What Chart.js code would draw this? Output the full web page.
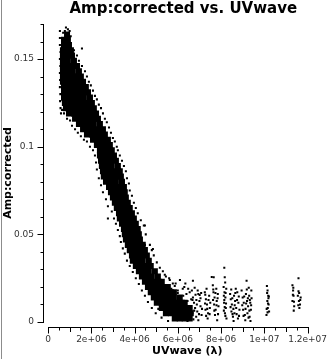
<!DOCTYPE html>
<html><head><meta charset="utf-8">
<script src="https://cdn.jsdelivr.net/npm/chart.js@4.4.1/dist/chart.umd.min.js"></script>
<style>html,body{margin:0;padding:0;background:#fff;overflow:hidden}#wrap{width:327px;height:359px;position:relative}</style>
</head><body><div id="wrap"><canvas id="c" width="327" height="359"></canvas></div>
<script>
const TITLE = 'Amp:corrected vs. UVwave';
const X_TITLE = 'UVwave (\u03bb)';
const Y_TITLE = 'Amp:corrected';
const UV_UNIT = 1e6; // uv values below are in units of 1e6 wavelengths

const xTickValues = [0, 2e6, 4e6, 6e6, 8e6, 1e7, 1.2e7];
const xTickLabels = ['0', '2e+06', '4e+06', '6e+06', '8e+06', '1e+07', '1.2e+07'];
const yTickValues = [0, 0.05, 0.1, 0.15];
const yTickLabels = ['0', '0.05', '0.1', '0.15'];

// dense body of the visibility cloud: amplitude rows and the uv positions filled in each row
const coreAmpLevels = [0.164,0.161,0.158,0.155,0.152,0.149,0.146,0.143,0.140,0.137,0.134,0.131,0.128,0.125,0.122,0.119,0.116,0.113,0.110,0.107,0.104,0.101,0.098,0.095,0.092,0.089,0.086,0.083,0.080,0.077,0.074,0.071,0.068,0.065,0.062,0.059,0.056,0.053,0.050,0.047,0.044,0.041,0.038,0.035,0.032,0.029,0.026,0.023,0.020,0.017,0.014,0.011,0.008,0.005,0.002];
const coreUVByLevel = [
[0.88],
[0.74,0.92],
[0.74,0.97],
[0.69,0.92,1.06],
[0.69,0.92,1.11],
[0.69,0.92,1.20],
[0.69,0.92,1.15,1.34],
[0.69,0.92,1.15,1.43],
[0.69,0.92,1.15,1.38,1.52],
[0.69,0.92,1.15,1.38,1.62],
[0.74,0.97,1.20,1.43,1.66,1.75],
[0.74,0.97,1.20,1.43,1.66,1.85],
[0.74,0.97,1.20,1.43,1.66,1.94],
[0.78,1.02,1.25,1.48,1.71,1.94,2.03],
[0.83,1.06,1.29,1.52,1.75,1.98,2.12],
[0.97,1.20,1.43,1.66,1.89,2.12,2.22],
[1.25,1.48,1.71,1.94,2.17,2.31],
[1.43,1.66,1.89,2.12,2.40],
[1.62,1.85,2.08,2.31,2.54],
[1.80,2.03,2.26,2.49,2.63],
[2.08,2.31,2.54,2.77],
[2.26,2.49,2.72,2.86],
[2.40,2.63,2.86,2.95],
[2.40,2.63,2.86,3.05],
[2.45,2.68,2.91,3.14],
[2.49,2.72,2.95,3.23],
[2.54,2.77,3.00,3.23,3.32],
[2.58,2.82,3.05,3.28,3.37],
[2.68,2.91,3.14,3.42],
[2.82,3.05,3.28,3.51],
[2.91,3.14,3.37,3.55],
[3.00,3.23,3.46,3.60],
[3.09,3.32,3.55,3.69],
[3.18,3.42,3.65,3.78],
[3.28,3.51,3.74,3.88],
[3.32,3.55,3.78,3.97],
[3.42,3.65,3.88,4.06],
[3.51,3.74,3.97,4.15],
[3.55,3.78,4.02,4.20],
[3.60,3.83,4.06,4.25],
[3.69,3.92,4.15,4.38],
[3.78,4.02,4.25,4.48],
[3.88,4.11,4.34,4.57],
[3.92,4.15,4.38,4.66],
[4.06,4.29,4.52,4.75],
[4.20,4.43,4.66,4.94],
[4.34,4.57,4.80,5.08],
[4.48,4.71,4.94,5.12,5.26],
[4.62,4.85,5.08,5.31,5.54],
[4.75,4.98,5.21,5.45,5.68,5.82],
[4.89,5.12,5.35,5.58,5.82,6.09],
[5.03,5.26,5.49,5.72,5.95,6.18,6.32],
[5.26,5.49,5.72,5.95,6.18,6.41,6.55],
[5.45,5.68,5.91,6.14,6.37,6.60],
[5.86,6.09,6.32,6.55]
];

// scattered individual visibilities around the band edges: [uv (1e6), amp]
const bandFringe = [
[0.55,0.166],[0.55,0.162],[0.55,0.158],[0.58,0.154],[0.55,0.150],[0.57,0.146],[0.55,0.142],[0.56,0.138],[0.55,0.134],[0.57,0.130],[0.56,0.126],[0.58,0.122],[0.60,0.119],
[0.83,0.168],[0.92,0.167],[1.00,0.166],[0.78,0.166],[0.70,0.165],[1.05,0.163],[1.57,0.156],
[1.20,0.155],[1.34,0.152],[1.43,0.149],[1.57,0.146],[1.71,0.143],[1.80,0.140],[1.89,0.137],[1.98,0.135],[2.08,0.132],[2.17,0.129],[2.26,0.127],[2.35,0.124],[2.45,0.122],[2.54,0.119],[2.63,0.116],[2.72,0.114],[2.82,0.111],[2.91,0.108],[3.00,0.105],[3.09,0.103],[3.18,0.100],[3.23,0.098],[3.32,0.095],[3.42,0.092],[3.51,0.089],[3.60,0.086],[3.65,0.082],[3.74,0.079],[3.78,0.075],[3.88,0.072],[3.97,0.068],[4.06,0.065],[4.15,0.062],[4.29,0.058],[4.43,0.055],[4.48,0.055],[4.52,0.050],[4.48,0.044],[4.71,0.044],[4.85,0.0416],[4.80,0.041],[4.89,0.038],[5.03,0.034],[5.17,0.031],[5.31,0.029],[5.45,0.026],[5.63,0.024],[5.77,0.022],[5.86,0.0205],[6.00,0.018],[6.23,0.019],
[0.65,0.121],[0.74,0.119],[0.88,0.116],[1.02,0.115],[1.11,0.112],[1.25,0.110],[1.38,0.108],[1.52,0.106],[1.66,0.104],[1.80,0.103],[1.94,0.100],[2.08,0.098],[2.17,0.095],[2.22,0.091],[2.26,0.087],[2.35,0.082],[2.45,0.078],[2.54,0.074],[2.68,0.070],[2.77,0.066],[2.95,0.063],[3.05,0.059],[3.14,0.056],[3.23,0.0525],[3.32,0.049],[3.37,0.0456],[3.46,0.042],[3.55,0.039],[3.65,0.035],[3.78,0.032],[3.92,0.0285],[4.06,0.025],[4.20,0.0217],[4.34,0.018],[4.48,0.015],[4.62,0.0114],[4.80,0.008],[4.98,0.005],
[2.77,0.059],[5.40,0.027],[5.60,0.025],[5.90,0.022],[5.70,0.019],[6.00,0.0165],[6.30,0.020],[6.40,0.016],[6.45,0.012],[6.50,0.009],[6.60,0.006],[6.55,0.017],[6.92,0.018],[7.01,0.0154],[7.57,0.0257],
[6.10,0.024],[6.25,0.015],[6.35,0.022],[6.48,0.019],[6.62,0.013],[6.58,0.0025],[6.45,0.0005],[6.70,0.0235],[5.55,0.0005],[5.25,0.0025],[5.10,0.0075],[4.95,0.0105]
];

// vertical tracks of the long baselines
const longBaselines = [
[6.65,0.018],[6.70,0.014],[6.75,0.011],[6.80,0.008],[6.68,0.005],[6.85,0.003],[6.95,0.016],[7.00,0.012],[7.05,0.009],[6.90,0.006],[7.10,0.004],[6.72,0.0015],[6.95,0.001],[7.05,0.0135],[6.78,0.0195],
[6.68,0.0125],[6.82,0.0155],[6.88,0.010],[7.12,0.0075],[6.98,0.0045],[6.76,0.0065],[7.08,0.0165],[6.86,0.0125],
[7.25,0.017],[7.30,0.013],[7.35,0.010],[7.28,0.007],[7.40,0.005],[7.45,0.015],[7.50,0.011],[7.38,0.002],[7.48,0.008],[7.33,0.019],
[7.27,0.0155],[7.42,0.0125],[7.36,0.0075],[7.31,0.0035],[7.47,0.0045],[7.26,0.0105],
[7.62,0.021],[7.65,0.017],[7.70,0.014],[7.68,0.010],[7.75,0.007],[7.80,0.012],[7.85,0.016],[7.88,0.009],[7.72,0.004],[7.82,0.001],[7.66,0.0255],[7.78,0.019],
[7.63,0.0125],[7.74,0.0165],[7.86,0.0045],[7.69,0.0065],[7.79,0.0095],[7.64,0.0185],[7.84,0.0135],
[8.15,0.031],[8.17,0.0255],[8.12,0.020],[8.16,0.017],[8.20,0.014],[8.14,0.011],[8.22,0.008],[8.18,0.005],[8.25,0.002],[8.13,0.015],[8.24,0.019],
[8.19,0.0225],[8.21,0.0165],[8.15,0.0125],[8.23,0.0105],[8.13,0.0065],[8.20,0.0035],[8.17,0.0085],
[8.42,0.016],[8.45,0.013],[8.50,0.010],[8.48,0.006],[8.55,0.003],[8.60,0.015],[8.65,0.012],[8.70,0.008],[8.62,0.005],[8.75,0.017],[8.80,0.011],[8.85,0.007],[8.78,0.002],[8.58,0.0005],[8.68,0.019],
[8.44,0.0085],[8.52,0.0135],[8.57,0.0075],[8.66,0.0165],[8.72,0.0045],[8.82,0.0145],[8.47,0.0185],[8.83,0.0035],[8.63,0.0095],[8.74,0.0125],[8.53,0.0045],
[9.18,0.0235],[8.95,0.018],[9.00,0.014],[9.05,0.011],[9.02,0.007],[9.10,0.004],[9.15,0.016],[9.20,0.012],[9.25,0.009],[9.22,0.005],[9.30,0.015],[9.35,0.011],[9.38,0.007],[9.32,0.003],[9.40,0.018],[9.12,0.001],[9.28,0.0195],[9.36,0.0005],
[8.98,0.0095],[9.07,0.0145],[9.13,0.0075],[9.19,0.0185],[9.24,0.0135],[9.27,0.0025],[9.33,0.0125],[9.39,0.0095],[9.04,0.0035],[9.16,0.0105],[9.31,0.0065],[9.41,0.0135],
[10.12,0.0205],[10.15,0.018],[10.18,0.015],[10.14,0.012],[10.20,0.010],[10.16,0.008],[10.22,0.006],[10.10,0.004],[10.19,0.0135],[10.13,0.0165],
[10.17,0.0105],[10.11,0.0075],[10.21,0.0145],[10.15,0.0055],
[11.58,0.025],[11.30,0.021],[11.33,0.018],[11.35,0.015],[11.30,0.012],[11.38,0.009],[11.55,0.015],[11.60,0.012],[11.65,0.010],[11.62,0.008],[11.68,0.014],[11.58,0.0175],[11.36,0.0065],
[11.32,0.0155],[11.37,0.0115],[11.61,0.0165],[11.66,0.0125],[11.57,0.0095],[11.34,0.0195]
];

const corePoints = [];
coreAmpLevels.forEach((amp, i) => coreUVByLevel[i].forEach(uv => corePoints.push({x: uv * UV_UNIT, y: amp})));
const sparsePoints = bandFringe.concat(longBaselines).map(p => ({x: p[0] * UV_UNIT, y: p[1]}));

function labelFor(values, labels, v, tol) {
  const i = values.findIndex(t => Math.abs(t - v) < tol);
  return i >= 0 ? labels[i] : '';
}

const offsetAxes = {
  id: 'offsetAxes',
  afterDraw(chart) {
    const ctx = chart.ctx, xs = chart.scales.x, ys = chart.scales.y, a = chart.chartArea;
    ctx.save();
    ctx.fillStyle = '#8c8c8c';
    ctx.fillRect(1, 0, 1, chart.height);
    ctx.strokeStyle = '#000';
    ctx.lineWidth = 1;
    const xAxisY = Math.round(a.bottom) + 5.5;
    const yAxisX = Math.round(a.left) - 4.5;
    ctx.beginPath();
    ctx.moveTo(Math.round(xs.getPixelForValue(xs.min)), xAxisY);
    ctx.lineTo(Math.round(xs.getPixelForValue(xs.max)) + 1, xAxisY);
    ctx.moveTo(yAxisX, Math.round(ys.getPixelForValue(ys.min)) + 1);
    ctx.lineTo(yAxisX, Math.round(ys.getPixelForValue(ys.max)));
    xs.ticks.forEach(t => {
      const px = Math.round(xs.getPixelForValue(t.value)) + 0.5;
      let len = 3;
      if (labelFor(xTickValues, xTickLabels, t.value, 1) !== '') len = 6;
      else if (Math.abs(t.value / 1e6 - Math.round(t.value / 1e6)) < 1e-6) len = 4.5;
      ctx.moveTo(px, xAxisY - 0.5);
      ctx.lineTo(px, xAxisY + len);
    });
    ys.ticks.forEach(t => {
      const py = Math.round(ys.getPixelForValue(t.value)) + 0.5;
      const len = labelFor(yTickValues, yTickLabels, t.value, 1e-6) !== '' ? 6 : 3;
      ctx.moveTo(yAxisX + 0.5, py);
      ctx.lineTo(yAxisX - len, py);
    });
    ctx.stroke();

    ctx.fillStyle = '#000';
    ctx.textAlign = 'center';
    ctx.textBaseline = 'middle';
    ctx.font = 'bold 15px "DejaVu Sans"';
    ctx.fillText(TITLE, (a.left + a.right) / 2 + 5.5, 9);
    ctx.font = 'bold 11px "DejaVu Sans"';
    ctx.fillText(X_TITLE, (a.left + a.right) / 2 + 9.5, 351.5);
    ctx.translate(8, (a.top + a.bottom) / 2);
    ctx.rotate(-Math.PI / 2);
    ctx.fillText(Y_TITLE, 0, 0);
    ctx.restore();
  }
};

new Chart(document.getElementById('c'), {
  type: 'scatter',
  data: {
    datasets: [
      {label: 'dense', data: corePoints, pointStyle: 'rect', pointRadius: 4.25, pointBorderWidth: 0, backgroundColor: '#000', borderColor: '#000'},
      {label: 'scattered', data: sparsePoints, pointStyle: 'rect', pointRadius: 1.45, pointBorderWidth: 0, backgroundColor: '#000', borderColor: '#000'}
    ]
  },
  options: {
    responsive: false,
    animation: false,
    events: [],
    layout: {padding: {top: 24, left: 0, right: 0, bottom: 0}},
    plugins: {legend: {display: false}, tooltip: {enabled: false}, title: {display: false}},
    scales: {
      x: {
        type: 'linear', min: 0, max: 1.2e7,
        grid: {display: false, drawTicks: false},
        border: {display: false},
        ticks: {
          stepSize: 5e5, autoSkip: false, maxRotation: 0, minRotation: 0, padding: 12,
          color: '#333', font: {family: 'DejaVu Sans', size: 9},
          callback: v => labelFor(xTickValues, xTickLabels, v, 1)
        },
        afterFit: s => {
          s.height = 37;
          s.paddingRight = Math.max(0, s.paddingRight - s.options.ticks.padding);
          s.paddingLeft = Math.max(0, s.paddingLeft - s.options.ticks.padding);
        }
      },
      y: {
        type: 'linear', min: 0, max: 0.17,
        grid: {display: false, drawTicks: false},
        border: {display: false},
        ticks: {
          stepSize: 0.01, autoSkip: false, padding: 14,
          color: '#333', font: {family: 'DejaVu Sans', size: 9},
          callback: v => labelFor(yTickValues, yTickLabels, v, 1e-6)
        },
        afterFit: s => { s.width = 48; }
      }
    }
  },
  plugins: [offsetAxes]
});
</script>
</body></html>
